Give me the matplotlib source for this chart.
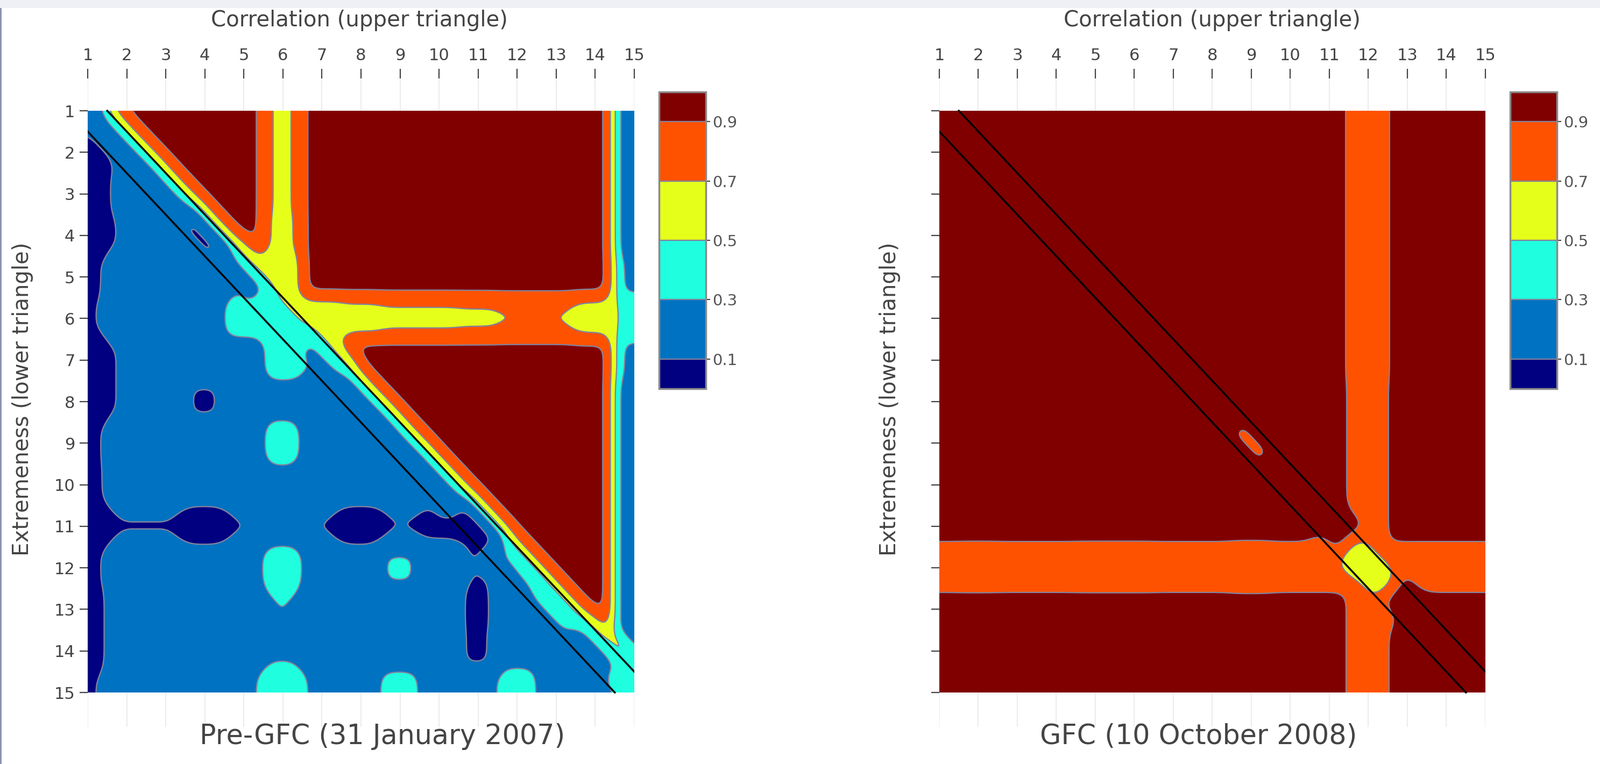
import numpy as np
import matplotlib
matplotlib.use('Agg')
import matplotlib.pyplot as plt
from matplotlib.patches import Rectangle

# ---------------- data ----------------
LABELS = list(range(1, 16))
LEVELS = [0.0, 0.1, 0.3, 0.5, 0.7, 0.9, 1.0]
BAND_COLORS = ['#000080', '#0072c2', '#1fffe0', '#e6ff1a', '#ff5200', '#800000']
CBAR_TICKS = [0.1, 0.3, 0.5, 0.7, 0.9]

TOP_TITLE = 'Correlation (upper triangle)'
Y_TITLE = 'Extremeness (lower triangle)'
PANEL_TITLES = ['Pre-GFC (31 January 2007)', 'GFC (10 October 2008)']

# rows = asset i (y, top to bottom), cols = asset j (x); upper = correlation, lower = extremeness
PRE_GFC = [
    [0.20, 0.96, 0.96, 0.96, 0.96, 0.675, 0.96, 0.96, 0.96, 0.96, 0.96, 0.96, 0.96, 0.96, 0.15],
    [0.03, 0.20, 0.96, 0.96, 0.96, 0.675, 0.96, 0.96, 0.96, 0.96, 0.96, 0.96, 0.96, 0.96, 0.15],
    [0.03, 0.13, 0.20, 0.96, 0.96, 0.675, 0.96, 0.96, 0.96, 0.96, 0.96, 0.96, 0.96, 0.96, 0.15],
    [0.02, 0.11, 0.15, 0.085, 0.96, 0.66, 0.96, 0.96, 0.96, 0.96, 0.96, 0.96, 0.96, 0.96, 0.15],
    [0.07, 0.20, 0.20, 0.15, 0.25, 0.58, 0.96, 0.96, 0.96, 0.96, 0.96, 0.96, 0.96, 0.96, 0.24],
    [0.09, 0.20, 0.20, 0.22, 0.36, 0.45, 0.60, 0.64, 0.67, 0.67, 0.68, 0.70, 0.70, 0.62, 0.45],
    [0.02, 0.11, 0.20, 0.20, 0.22, 0.35, 0.28, 0.96, 0.96, 0.96, 0.96, 0.96, 0.96, 0.96, 0.24],
    [0.02, 0.11, 0.20, 0.085, 0.20, 0.25, 0.20, 0.20, 0.96, 0.96, 0.96, 0.96, 0.96, 0.96, 0.15],
    [0.07, 0.20, 0.20, 0.20, 0.20, 0.36, 0.20, 0.20, 0.20, 0.96, 0.96, 0.96, 0.96, 0.96, 0.15],
    [0.06, 0.20, 0.20, 0.20, 0.20, 0.26, 0.20, 0.20, 0.20, 0.20, 0.96, 0.96, 0.96, 0.96, 0.15],
    [0.02, 0.098, 0.098, 0.03, 0.10, 0.20, 0.10, 0.03, 0.10, 0.08, 0.07, 0.96, 0.96, 0.96, 0.15],
    [0.07, 0.20, 0.20, 0.20, 0.20, 0.40, 0.20, 0.20, 0.32, 0.20, 0.10, 0.30, 0.96, 0.96, 0.15],
    [0.05, 0.18, 0.20, 0.20, 0.20, 0.30, 0.20, 0.20, 0.20, 0.20, 0.08, 0.22, 0.32, 0.96, 0.15],
    [0.05, 0.18, 0.20, 0.20, 0.20, 0.28, 0.20, 0.20, 0.20, 0.20, 0.085, 0.24, 0.22, 0.26, 0.18],
    [0.09, 0.20, 0.20, 0.20, 0.26, 0.45, 0.26, 0.20, 0.38, 0.20, 0.20, 0.40, 0.20, 0.22, 0.38],
]
# correlation surface right at the diagonal edge (just above the upper black line)
PRE_GFC_EDGE = [0.80, 0.80, 0.80, 0.80, 0.68, 0.60, 0.66, 0.80, 0.80, 0.80, 0.80, 0.80, 0.80, 0.70, 0.50]

GFC = [
    [0.96, 0.96, 0.96, 0.96, 0.96, 0.96, 0.96, 0.96, 0.96, 0.96, 0.96, 0.80, 0.96, 0.96, 0.96],
    [0.96, 0.96, 0.96, 0.96, 0.96, 0.96, 0.96, 0.96, 0.96, 0.96, 0.96, 0.80, 0.96, 0.96, 0.96],
    [0.96, 0.96, 0.96, 0.96, 0.96, 0.96, 0.96, 0.96, 0.96, 0.96, 0.96, 0.80, 0.96, 0.96, 0.96],
    [0.96, 0.96, 0.96, 0.96, 0.96, 0.96, 0.96, 0.96, 0.96, 0.96, 0.96, 0.80, 0.96, 0.96, 0.96],
    [0.96, 0.96, 0.96, 0.96, 0.96, 0.96, 0.96, 0.96, 0.96, 0.96, 0.96, 0.80, 0.96, 0.96, 0.96],
    [0.96, 0.96, 0.96, 0.96, 0.96, 0.96, 0.96, 0.96, 0.96, 0.96, 0.96, 0.80, 0.96, 0.96, 0.96],
    [0.96, 0.96, 0.96, 0.96, 0.96, 0.96, 0.96, 0.96, 0.96, 0.96, 0.96, 0.80, 0.96, 0.96, 0.96],
    [0.96, 0.96, 0.96, 0.96, 0.96, 0.96, 0.96, 0.96, 0.96, 0.96, 0.96, 0.82, 0.96, 0.96, 0.96],
    [0.96, 0.96, 0.96, 0.96, 0.96, 0.96, 0.96, 0.96, 0.892, 0.96, 0.96, 0.82, 0.96, 0.96, 0.96],
    [0.96, 0.96, 0.96, 0.96, 0.96, 0.96, 0.96, 0.96, 0.96, 0.96, 0.96, 0.82, 0.96, 0.96, 0.96],
    [0.96, 0.96, 0.96, 0.96, 0.96, 0.96, 0.96, 0.96, 0.96, 0.96, 0.96, 0.82, 0.96, 0.96, 0.96],
    [0.75, 0.74, 0.75, 0.75, 0.74, 0.74, 0.75, 0.75, 0.71, 0.75, 0.75, 0.55, 0.75, 0.75, 0.75],
    [0.96, 0.96, 0.96, 0.96, 0.96, 0.96, 0.96, 0.96, 0.96, 0.96, 0.96, 0.81, 0.96, 0.96, 0.96],
    [0.96, 0.96, 0.96, 0.96, 0.96, 0.96, 0.96, 0.96, 0.96, 0.96, 0.96, 0.81, 0.96, 0.96, 0.96],
    [0.96, 0.96, 0.96, 0.96, 0.96, 0.96, 0.96, 0.96, 0.96, 0.96, 0.96, 0.81, 0.96, 0.96, 0.96],
]
GFC_EDGE = [0.96, 0.96, 0.96, 0.96, 0.96, 0.96, 0.96, 0.96, 0.96, 0.96, 0.96, 0.80, 0.96, 0.96, 0.96]

HALF_BAND = 0.5  # half width of the diagonal band drawn between the two black lines


def cell_field(M, edge, t):
    """Value of the matrix cell shown at each fine point; diagonal cells fill |x-y|<=0.5."""
    n = M.shape[0]
    X, Y = np.meshgrid(np.clip(t, 1, n), np.clip(t, 1, n))
    rnd = lambda v: np.clip(np.floor(v + 0.5).astype(int), 1, n)
    r0, c0 = rnd(Y), rnd(X)
    D = X - Y
    r, c = r0.copy(), c0.copy()
    band = np.abs(D) <= HALF_BAND
    k = rnd((X + Y) / 2)
    r[band] = k[band]
    c[band] = k[band]
    fu = (D > HALF_BAND) & (c0 <= r0)
    kk = r0
    dA = np.where(kk + 1 > n, np.inf, (X - (kk + 1)) ** 2 + (Y - kk) ** 2)
    dB = np.where(kk - 1 < 1, np.inf, (X - kk) ** 2 + (Y - (kk - 1)) ** 2)
    a = dA <= dB
    r = np.where(fu, np.where(a, kk, kk - 1), r)
    c = np.where(fu, np.where(a, kk + 1, kk), c)
    fl = (D < -HALF_BAND) & (c0 >= r0)
    kk = c0
    dA = np.where(kk + 1 > n, np.inf, (X - kk) ** 2 + (Y - (kk + 1)) ** 2)
    dB = np.where(kk - 1 < 1, np.inf, (X - (kk - 1)) ** 2 + (Y - kk) ** 2)
    a = dA <= dB
    r = np.where(fl, np.where(a, kk + 1, kk), r)
    c = np.where(fl, np.where(a, kk, kk - 1), c)
    Z = M[r - 1, c - 1]
    strip = (D > HALF_BAND) & (D < 2 * HALF_BAND)
    Z = np.where(strip, np.asarray(edge, float)[k - 1], Z)
    return Z


def smooth_field(M, edge, k=24, sigma=0.2):
    M = np.asarray(M, float)
    n = M.shape[0]
    pad = int(np.ceil(3 * sigma * k))
    t = 1 + np.arange(-pad, (n - 1) * k + 1 + pad) / k
    Z = cell_field(M, edge, t)
    u = np.arange(-pad, pad + 1) / k
    w = np.exp(-0.5 * (u / sigma) ** 2)
    w /= w.sum()
    Z = np.array([np.convolve(row, w, mode='valid') for row in Z])
    Z = np.array([np.convolve(col, w, mode='valid') for col in Z.T]).T
    g = 1 + np.arange((n - 1) * k + 1) / k
    return g, Z


W, H = 2974, 1421
fig = plt.figure(figsize=(W / 100, H / 100), dpi=100)
fig.patch.set_facecolor('white')

fig.patches.append(Rectangle((0, 1 - 15 / H), 1, 15 / H, transform=fig.transFigure,
                             facecolor='#eef0f5', edgecolor='none', zorder=0))
fig.patches.append(Rectangle((0, 0), 3 / W, 1 - 15 / H, transform=fig.transFigure,
                             facecolor='#8a92b2', edgecolor='none', zorder=0))

ax_top, ax_bot = 146, 1352
panels = [
    dict(M=PRE_GFC, E=PRE_GFC_EDGE, x0=163, x1=1179, cb=1225, title_x=668, lab_x=711,
         ylab_x=42, ylabels=True),
    dict(M=GFC, E=GFC_EDGE, x0=1746, x1=2761, cb=2807, title_x=2253, lab_x=2228,
         ylab_x=1654, ylabels=False),
]

n = len(LABELS)
row1_px, rown_px = 206, 1288
per = (rown_px - row1_px) / (n - 1)
ytop = 1 - (row1_px - ax_top) / per
ybot = n + (ax_bot - rown_px) / per
text_col = '#444444'

for p, ptitle in zip(panels, PANEL_TITLES):
    ax = fig.add_axes([p['x0'] / W, 1 - ax_bot / H, (p['x1'] - p['x0']) / W, (ax_bot - ax_top) / H])
    g, Z = smooth_field(p['M'], p['E'])
    cf = ax.contourf(g, g, Z, levels=LEVELS, colors=BAND_COLORS, zorder=1)
    cl = ax.contour(g, g, Z, levels=LEVELS[1:-1], colors='#82829c', linewidths=1.7, zorder=2)
    ax.plot([1 + HALF_BAND, n], [1, n - HALF_BAND], color='black', lw=2.5, zorder=3)
    ax.plot([1, n - HALF_BAND], [1 + HALF_BAND, n], color='black', lw=2.5, zorder=3)
    ax.set_xlim(1, n)
    ax.set_ylim(ybot, ytop)
    ax.set_xticks(LABELS)
    ax.set_yticks(LABELS)
    ax.xaxis.tick_top()
    ax.set_axisbelow(True)
    ax.grid(axis='x', color='#ececec', lw=1.5)
    for s in ax.spines.values():
        s.set_visible(False)
    ax.tick_params(axis='x', length=13, width=1.6, color=text_col, labelcolor=text_col,
                   labelsize=22, pad=7)
    ax.tick_params(axis='y', length=11, width=1.6, color=text_col, labelcolor=text_col,
                   labelsize=22, pad=6, labelleft=p['ylabels'])

    cax = fig.add_axes([p['cb'] / W, 1 - 723 / H, 87 / W, 552 / H])
    cbar = fig.colorbar(cf, cax=cax, spacing='proportional', ticks=CBAR_TICKS)
    cbar.add_lines(cl)
    cbar.outline.set_edgecolor('#8a8a8a')
    cbar.outline.set_linewidth(2.5)
    cbar.ax.tick_params(length=6, width=1.5, color=text_col, labelcolor='#555555',
                        labelsize=21, pad=3)
    cbar.ax.set_yticklabels([f'{v:.1f}' for v in CBAR_TICKS])

    fig.text(p['title_x'] / W, 1 - 38 / H, TOP_TITLE, ha='center', va='center',
             fontsize=29, color=text_col)
    fig.text(p['lab_x'] / W, 1 - 1370 / H, ptitle, ha='center', va='center',
             fontsize=36.5, color=text_col)
    fig.text(p['ylab_x'] / W, 1 - 742 / H, Y_TITLE, ha='center', va='center',
             rotation=90, fontsize=29, color=text_col)

fig.savefig('out.png', dpi=100, facecolor='white')
